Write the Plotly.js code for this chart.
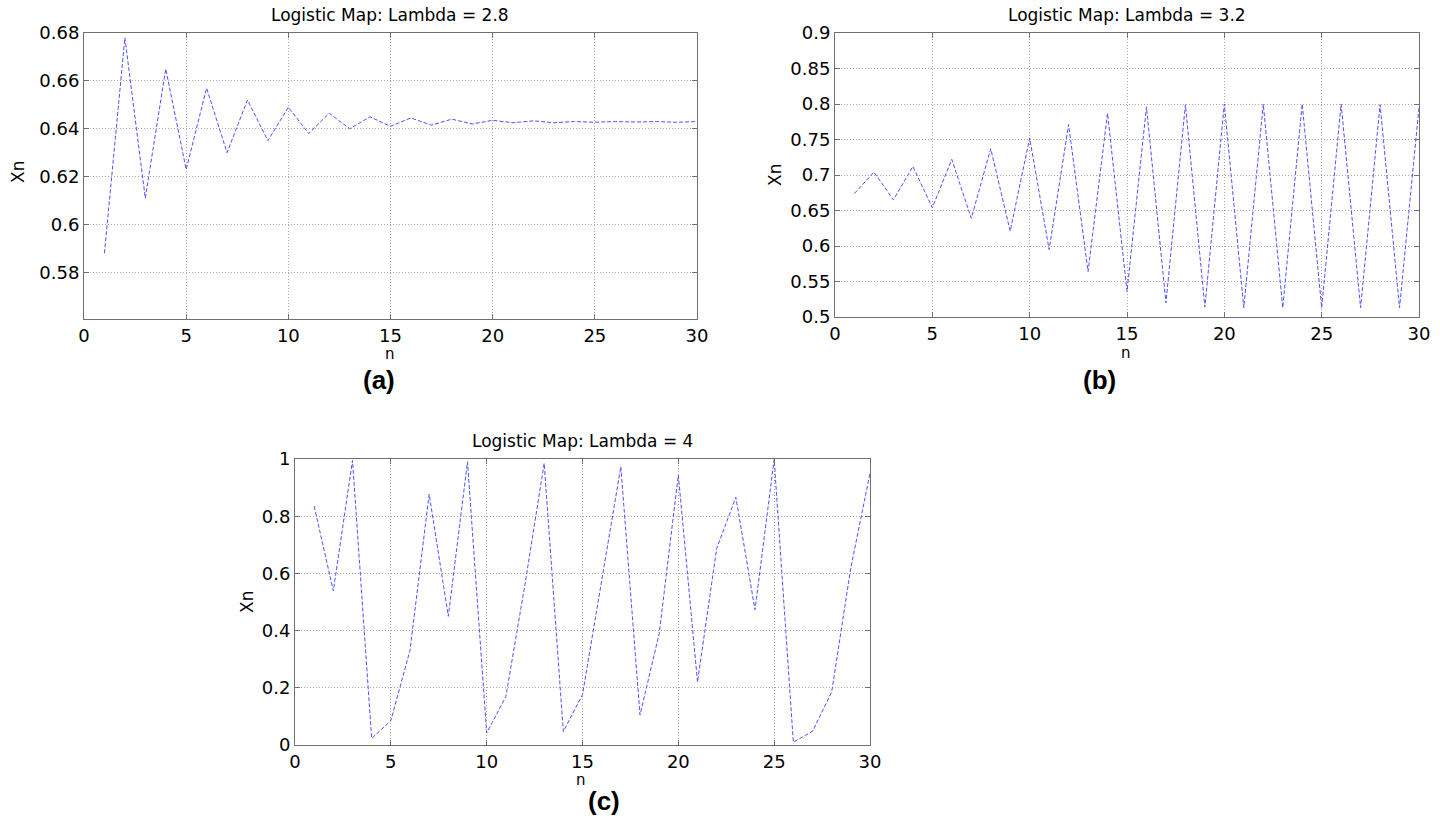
<!DOCTYPE html>
<html>
<head>
<meta charset="utf-8">
<script src="https://cdn.plot.ly/plotly-3.0.1.min.js"></script>
<style>html,body{margin:0;padding:0;background:#fff;}#chart{width:1440px;height:818px;}</style>
</head>
<body>
<div id="chart"></div>
<script>
// ---- data ----
const n = [1,2,3,4,5,6,7,8,9,10,11,12,13,14,15,16,17,18,19,20,21,22,23,24,25,26,27,28,29,30];
const xnLambda28 = [0.588,0.678,0.611,0.665,0.623,0.657,0.630,0.652,0.635,0.649,0.638,0.6465,0.640,0.645,0.641,0.6445,0.6415,0.644,0.642,0.6435,0.6425,0.6433,0.6425,0.643,0.6427,0.643,0.6428,0.643,0.6427,0.643];
const xnLambda32 = [0.674,0.704,0.665,0.712,0.654,0.722,0.639,0.737,0.621,0.752,0.595,0.771,0.564,0.787,0.536,0.796,0.520,0.799,0.514,0.800,0.513,0.800,0.513,0.800,0.513,0.800,0.513,0.799,0.513,0.795];
const xnLambda4  = [0.835,0.539,0.995,0.023,0.085,0.331,0.877,0.450,0.990,0.042,0.169,0.562,0.985,0.047,0.176,0.580,0.973,0.105,0.389,0.944,0.220,0.687,0.866,0.473,0.999,0.010,0.048,0.185,0.620,0.950];

const titles = ["Logistic Map: Lambda = 2.8", "Logistic Map: Lambda = 3.2", "Logistic Map: Lambda = 4"];
const panelLabels = ["(a)", "(b)", "(c)"];
const xTickVals = [0,5,10,15,20,25,30];
const xTickText = ["0","5","10","15","20","25","30"];
const yTickValsA = [0.58,0.60,0.62,0.64,0.66,0.68];
const yTickTextA = ["0.58","0.6","0.62","0.64","0.66","0.68"];
const yTickValsB = [0.5,0.55,0.6,0.65,0.7,0.75,0.8,0.85,0.9];
const yTickTextB = ["0.5","0.55","0.6","0.65","0.7","0.75","0.8","0.85","0.9"];
const yTickValsC = [0,0.2,0.4,0.6,0.8,1];
const yTickTextC = ["0","0.2","0.4","0.6","0.8","1"];

// ---- layout helpers ----
const W = 1440, H = 818;
const px = v => v / W;
const py = v => 1 - v / H;
const tickFont = {family: "DejaVu Sans, Arial, sans-serif", size: 18, color: "#000"};
const lineStyle = {color: "rgb(80,80,255)", width: 1, dash: "4px,2px"};

function xax(domain, anchor) {
  return {domain: domain, anchor: anchor, range: [0, 30], tickvals: xTickVals, ticktext: xTickText,
    showgrid: true, gridcolor: "#a8a8a8", griddash: "1px,2px", gridwidth: 1,
    showline: true, linecolor: "#707070", linewidth: 1, mirror: "ticks",
    ticks: "inside", ticklen: 5, tickcolor: "#707070", zeroline: false,
    tickfont: tickFont, fixedrange: true};
}
function yax(domain, anchor, range, tv, tt) {
  return {domain: domain, anchor: anchor, range: range, tickvals: tv, ticktext: tt,
    showgrid: true, gridcolor: "#a8a8a8", griddash: "1px,2px", gridwidth: 1,
    showline: true, linecolor: "#707070", linewidth: 1, mirror: "ticks",
    ticks: "inside", ticklen: 5, tickcolor: "#707070", zeroline: false,
    tickfont: tickFont, fixedrange: true};
}

const traces = [
  {x: n, y: xnLambda28, xaxis: "x", yaxis: "y", mode: "lines", line: lineStyle, showlegend: false, hoverinfo: "x+y"},
  {x: n, y: xnLambda32, xaxis: "x2", yaxis: "y2", mode: "lines", line: lineStyle, showlegend: false, hoverinfo: "x+y"},
  {x: n, y: xnLambda4, xaxis: "x3", yaxis: "y3", mode: "lines", line: lineStyle, showlegend: false, hoverinfo: "x+y"}
];

const titleFont = {family: "DejaVu Sans, Arial, sans-serif", size: 17, color: "#000"};
const axTitleFont = {family: "DejaVu Sans, Arial, sans-serif", size: 17, color: "#000"};
const nFont = {family: "DejaVu Sans, Arial, sans-serif", size: 15, color: "#000"};
const panelFont = {family: "Liberation Sans, Arial, sans-serif", size: 26, color: "#000"};

function ann(text, x, y, font, extra) {
  return Object.assign({text: text, x: px(x), y: py(y), xref: "paper", yref: "paper",
    showarrow: false, xanchor: "center", yanchor: "middle", font: font, borderpad: 0}, extra || {});
}

const annotations = [
  ann(titles[0], 390, 15, titleFont),
  ann(titles[1], 1127, 15, titleFont),
  ann(titles[2], 582, 441, titleFont),
  ann("n", 390, 354, nFont),
  ann("n", 1126, 353, nFont),
  ann("n", 581, 780, nFont),
  ann("Xn", 18, 172, axTitleFont, {textangle: -90}),
  ann("Xn", 775, 175, axTitleFont, {textangle: -90}),
  ann("Xn", 247, 602, axTitleFont, {textangle: -90}),
  ann("<b>" + panelLabels[0] + "</b>", 379, 380, panelFont),
  ann("<b>" + panelLabels[1] + "</b>", 1099, 380, panelFont),
  ann("<b>" + panelLabels[2] + "</b>", 604, 801, panelFont)
];

const layout = {
  width: W, height: H,
  margin: {l: 0, r: 0, t: 0, b: 0},
  paper_bgcolor: "#fff", plot_bgcolor: "#fff",
  showlegend: false,
  xaxis: xax([px(84), px(697)], "y"),
  yaxis: yax([py(319), py(33)], "x", [0.5605, 0.68], yTickValsA, yTickTextA),
  xaxis2: xax([px(835), px(1419)], "y2"),
  yaxis2: yax([py(317), py(33)], "x2", [0.5, 0.9], yTickValsB, yTickTextB),
  xaxis3: xax([px(295), px(870)], "y3"),
  yaxis3: yax([py(745), py(459)], "x3", [0, 1], yTickValsC, yTickTextC),
  annotations: annotations
};

Plotly.newPlot("chart", traces, layout, {displayModeBar: false});
</script>
</body>
</html>
